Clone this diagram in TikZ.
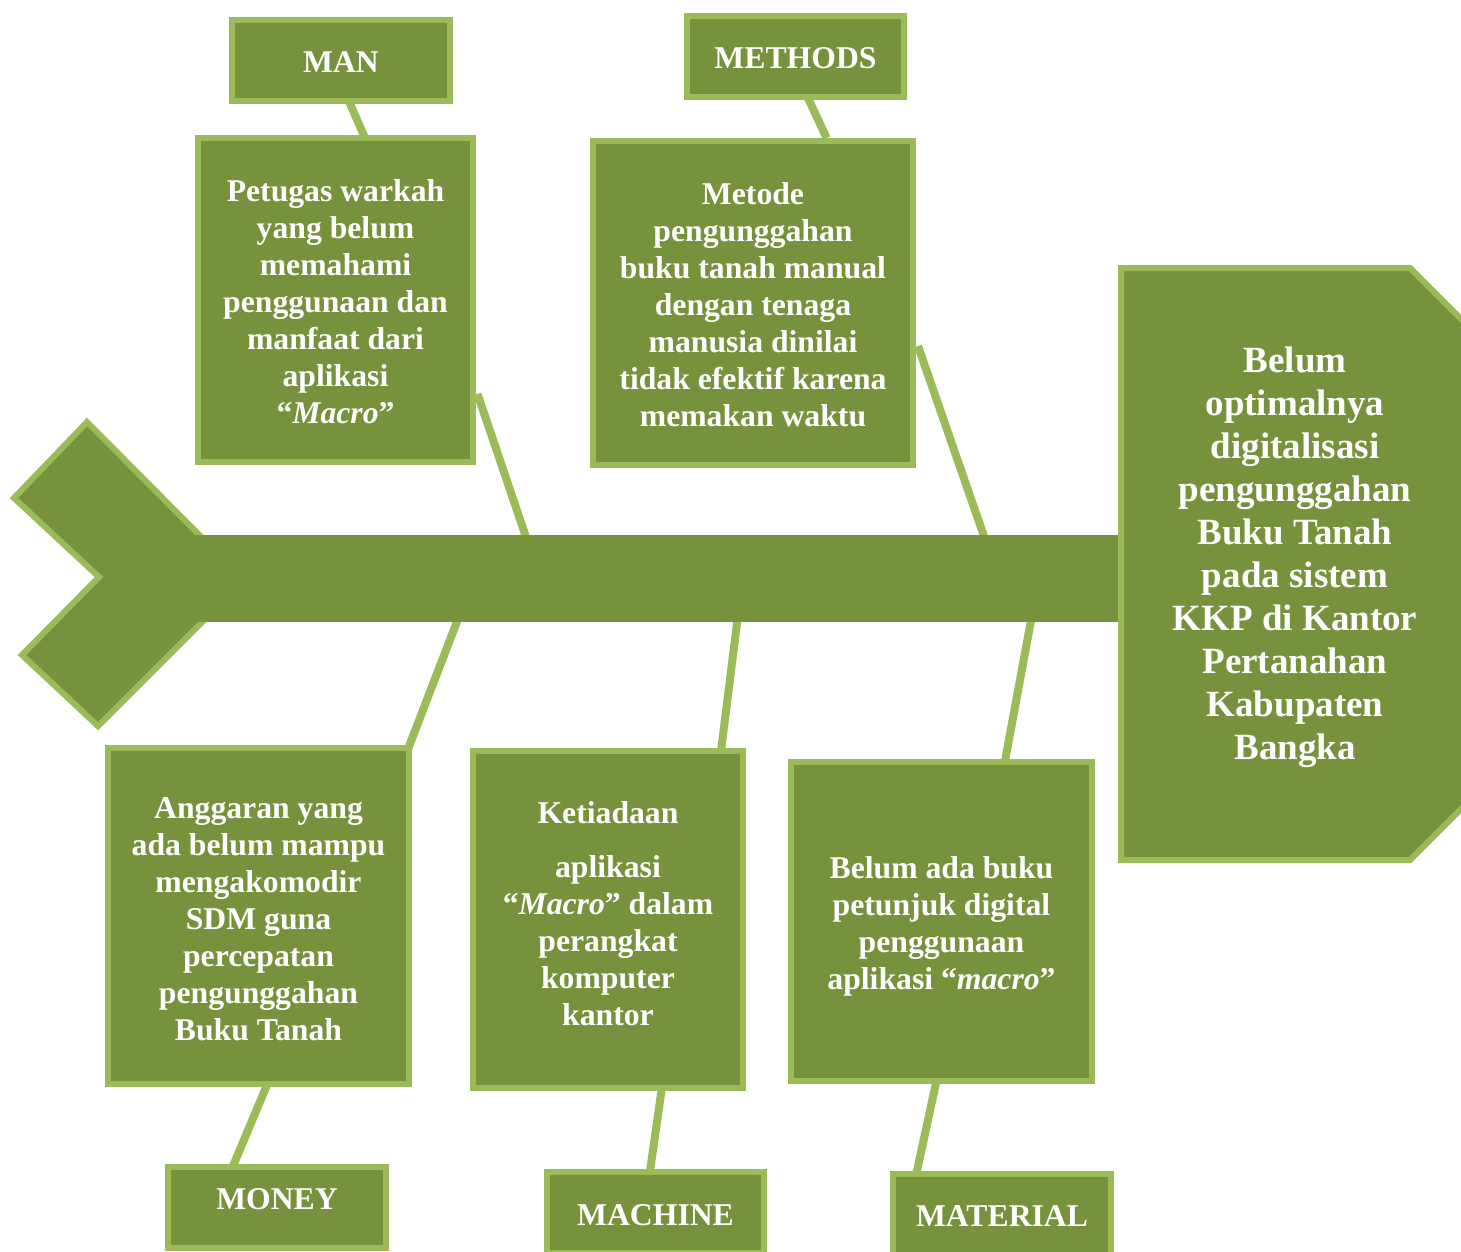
\documentclass[tikz,border=0pt]{standalone}
\usepackage{fontspec}
\setmainfont{Liberation Serif}
\usetikzlibrary{calc}
\definecolor{fishfill}{HTML}{77923C}
\definecolor{fishline}{HTML}{9BBB59}
\pgfdeclarelayer{background}
\pgfsetlayers{background,main}
\newcommand{\mvtext}[2]{\raisebox{#1}[\height][\depth]{#2}}
\newcommand{\lines}[1]{\begin{tabular}{@{}c@{}}#1\end{tabular}}
\begin{document}
\begin{tikzpicture}[x=1pt,y=-1pt,
  causebox/.style={draw=fishline, fill=fishfill, line width=6pt, text=white,
    font=\bfseries\fontsize{31.7}{37}\selectfont, align=center, inner sep=0pt},
  bone/.style={draw=fishline, line width=8pt},
  bodyshape/.style={draw=fishline, fill=fishfill, line width=6pt},
  headtext/.style={text=white, font=\bfseries\fontsize{37}{43}\selectfont, align=center, inner sep=0pt}]
\useasboundingbox (0,0) rectangle (1461,1251);
\clip (0,0) rectangle (1461,1251);

% ---------- boxes ----------
\node[causebox, minimum width=218pt, minimum height=81pt] (manlbl) at (341,60.5) {\mvtext{-2pt}{MAN}};
\node[causebox, minimum width=275pt, minimum height=324pt] (manbox) at (335.5,300)
  {\mvtext{-5pt}{\lines{Petugas warkah\\yang belum\\memahami\\penggunaan dan\\manfaat dari\\aplikasi\\``\textit{Macro}''}}};
\node[causebox, minimum width=217pt, minimum height=81pt] (methlbl) at (795.5,56.5) {\mvtext{-2pt}{METHODS}};
\node[causebox, minimum width=320pt, minimum height=324pt] (methbox) at (753,303)
  {\mvtext{-5pt}{\lines{Metode\\pengunggahan\\buku tanah manual\\dengan tenaga\\manusia dinilai\\tidak efektif karena\\memakan waktu}}};
\node[causebox, minimum width=301pt, minimum height=336pt] (monbox) at (258.5,916)
  {\mvtext{-6pt}{\lines{Anggaran yang\\ada belum mampu\\mengakomodir\\SDM guna\\percepatan\\pengunggahan\\Buku Tanah}}};
\node[causebox, minimum width=218pt, minimum height=81pt] (monlbl) at (277,1207.5) {\mvtext{8pt}{MONEY}};
\node[causebox, minimum width=270pt, minimum height=337pt] (machbox) at (608,919.5)
  {\mvtext{2pt}{\lines{Ketiadaan\\[17pt]aplikasi\\``\textit{Macro}'' dalam\\perangkat\\komputer\\kantor}}};
\node[causebox, minimum width=217pt, minimum height=81pt] (machlbl) at (655.5,1212.5) {\mvtext{-3pt}{MACHINE}};
\node[causebox, minimum width=301pt, minimum height=319pt] (matbox) at (941.5,921.5)
  {\mvtext{-5pt}{\lines{Belum ada buku\\petunjuk digital\\penggunaan\\aplikasi ``\textit{macro}''}}};
\node[causebox, minimum width=218pt, minimum height=81pt] (matlbl) at (1002,1214.5) {\mvtext{-2pt}{MATERIAL}};

% ---------- named end points on the spine and boxes ----------
\coordinate (s1) at (527,540);
\coordinate (b1) at ($(manbox.south east)+(1.5,-71)$);
\coordinate (s2) at (986,542);
\coordinate (b2) at ($(methbox.south east)+(2,-122)$);
\coordinate (s3) at (459.5,615);
\coordinate (b3) at ($(monbox.north east)+(-4,4)$);
\coordinate (s4) at (738,615);
\coordinate (b4) at ($(machbox.north east)+(-25,3)$);
\coordinate (s5) at (1032,615);
\coordinate (b5) at ($(matbox.north east)+(-90,2)$);

\begin{pgfonlayer}{background}
  % label connectors
  \draw[bone] ($(manlbl.south)+(7.4,-4)$) -- ($(manbox.north)+(29.5,3)$);
  \draw[bone] ($(methlbl.south)+(12,-3)$) -- ($(methbox.north)+(73.6,0)$);
  \draw[bone] ($(monbox.south)+(8.5,-2)$) -- ($(monlbl.north)+(-44,2)$);
  \draw[bone] ($(machbox.south)+(53.7,-2)$) -- ($(machlbl.north)+(-5.5,2)$);
  \draw[bone] ($(matbox.south)+(-5.3,-2)$) -- ($(matlbl.north)+(-85.5,2)$);
  % bones to the spine
  \draw[bone] (b1) -- (s1);
  \draw[bone] (b2) -- (s2);
  \draw[bone] (s3) -- (b3);
  \draw[bone] (s4) -- (b4);
  \draw[bone] (s5) -- (b5);
  % tail
  \draw[bodyshape, line join=miter] (87,422) -- (244,580) -- (98,726) -- (22,655) -- (99,577) -- (14,498) -- cycle;
  % spine
  \fill[fishfill] (190,535) rectangle (1125,622);
  % head
  \draw[bodyshape] (1121,268) -- (1410,268) -- (1706,564) -- (1410,860) -- (1121,860) -- cycle;
\end{pgfonlayer}

\node[headtext] (headtxt) at (1295,553)
  {\mvtext{-4pt}{\lines{Belum\\optimalnya\\digitalisasi\\pengunggahan\\Buku Tanah\\pada sistem\\KKP di Kantor\\Pertanahan\\Kabupaten\\Bangka}}};
\end{tikzpicture}
\end{document}
